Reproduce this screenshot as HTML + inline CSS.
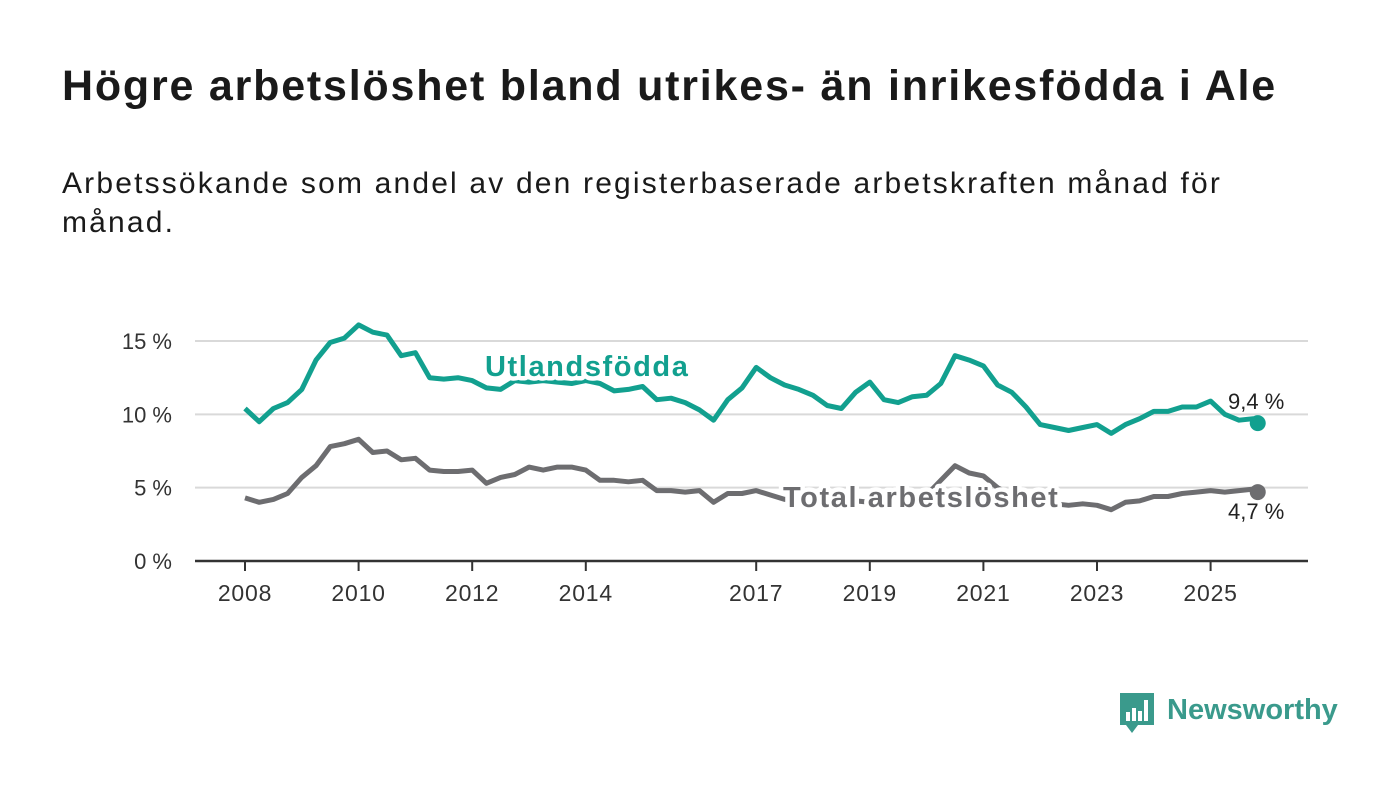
<!DOCTYPE html>
<html><head><meta charset="utf-8">
<style>
body{margin:0;width:1400px;height:794px;background:#fff;font-family:"Liberation Sans",sans-serif;overflow:hidden;position:relative;color:#1a1a1a}
h1{position:absolute;left:62px;top:62px;margin:0;font-size:43px;font-weight:bold;white-space:nowrap}
p{position:absolute;left:62px;top:164px;margin:0;font-size:30px;line-height:39px;white-space:nowrap}
svg{position:absolute;left:0;top:0}
</style></head><body>
<h1 id="title">Högre arbetslöshet bland utrikes- än inrikesfödda i Ale</h1>
<p><span id="sub1">Arbetssökande som andel av den registerbaserade arbetskraften månad för</span><br><span id="sub2">månad.</span></p>
<svg id="chart" width="1400" height="794"></svg>
<script>
const years=[2008,2010,2012,2014,2017,2019,2021,2023,2025];
const yTicks=[0,5,10,15];
const yTickLabels=["0 %","5 %","10 %","15 %"];
const startYear=2008;
const foreign=[10.4,9.5,10.4,10.8,11.7,13.7,14.9,15.2,16.1,15.6,15.4,14.0,14.2,12.5,12.4,12.5,12.3,11.8,11.7,12.3,12.2,12.3,12.2,12.1,12.3,12.1,11.6,11.7,11.9,11.0,11.1,10.8,10.3,9.6,11.0,11.8,13.2,12.5,12.0,11.7,11.3,10.6,10.4,11.5,12.2,11.0,10.8,11.2,11.3,12.1,14.0,13.7,13.3,12.0,11.5,10.5,9.3,9.1,8.9,9.1,9.3,8.7,9.3,9.7,10.2,10.2,10.5,10.5,10.9,10.0,9.6,9.7,9.4];
const total=[4.3,4.0,4.2,4.6,5.7,6.5,7.8,8.0,8.3,7.4,7.5,6.9,7.0,6.2,6.1,6.1,6.2,5.3,5.7,5.9,6.4,6.2,6.4,6.4,6.2,5.5,5.5,5.4,5.5,4.8,4.8,4.7,4.8,4.0,4.6,4.6,4.8,4.5,4.2,4.3,4.3,4.1,4.0,4.1,4.0,4.1,4.0,4.3,4.5,5.5,6.5,6.0,5.8,5.0,4.5,4.2,4.0,3.9,3.8,3.9,3.8,3.5,4.0,4.1,4.4,4.4,4.6,4.7,4.8,4.7,4.8,4.9,4.7];
const lastLabels=["9,4 %","4,7 %"];
const seriesNames=["Utlandsfödda","Total arbetslöshet"];

function fit(id,target){const e=document.getElementById(id);const w=e.getBoundingClientRect().width;const n=e.textContent.length;e.style.letterSpacing=((target-w)/n)+'px';}
fit('title',1215);fit('sub1',1160);
document.getElementById('sub2').style.letterSpacing=document.getElementById('sub1').style.letterSpacing;

const NS="http://www.w3.org/2000/svg";
const svg=document.getElementById('chart');
const X=t=>245+(t-startYear)*56.8;
const Y=v=>561-v*14.667;
const tOf=i=>startYear+(i===72?17.83:i*0.25);
function el(tag,attrs,parent){const e=document.createElementNS(NS,tag);for(const k in attrs)e.setAttribute(k,attrs[k]);(parent||svg).appendChild(e);return e;}

yTicks.forEach((v,i)=>{
  if(v>0){const g=el('line',{x1:195,x2:1308,y1:Y(v),y2:Y(v),stroke:'#d9d9d9','stroke-width':2});
  
  }
  const t=el('text',{x:172,y:Y(v)+8,'text-anchor':'end','font-size':22,fill:'#333'});
  t.textContent=yTickLabels[i];
  
  
});
const ax=el('line',{x1:195,x2:1308,y1:561,y2:561,stroke:'#333','stroke-width':2.5});


years.forEach(yr=>{
  el('line',{x1:X(yr),x2:X(yr),y1:561,y2:571,stroke:'#333','stroke-width':2});
  const t=el('text',{x:X(yr),y:601,'text-anchor':'middle','font-size':23,fill:'#333','letter-spacing':0.8});
  t.textContent=yr;
  
  
});
function line(data,color,name){
  const d=data.map((v,i)=>(i?'L':'M')+X(tOf(i)).toFixed(1)+','+Y(v).toFixed(1)).join('');
  const p=el('path',{d:d,fill:'none',stroke:color,'stroke-width':5,'stroke-linejoin':'round'});
  
  
  const n=data.length-1;
  const c=el('circle',{cx:X(tOf(n)),cy:Y(data[n]),r:8,fill:color});
  
  
}
line(total,'#6d6d70','total');
line(foreign,'#12a08f','foreign');
function label(x,y,txt,color,name){
  const t=el('text',{x:x,y:y,'font-size':29,'font-weight':'bold',fill:color,stroke:'#fff','stroke-width':9,'paint-order':'stroke','stroke-linejoin':'round','letter-spacing':1.6});
  t.textContent=txt;
  
  
}
label(485,376,seriesNames[0],'#12a08f','foreign-series-label');
label(783,507,seriesNames[1],'#6d6d70','total-series-label');
const v1=el('text',{x:1228,y:409,'font-size':22,fill:'#222'});v1.textContent=lastLabels[0];


const v2=el('text',{x:1228,y:519,'font-size':22,fill:'#222'});v2.textContent=lastLabels[1];



const g=el('g',{});


el('path',{d:'M1120,693 h34 v32 h-16 l-6,8 l-6,-8 h-6 z',fill:'#3a9a8c'},g);
[[1126,712,4,9],[1132,708,4,13],[1138,711,4,10],[1144,700,4,21]].forEach(r=>el('rect',{x:r[0],y:r[1],width:r[2],height:r[3],fill:'#fff'},g));
const lt=el('text',{x:1167,y:719,'font-size':29,'font-weight':'bold',fill:'#3a9a8c'},g);lt.textContent='Newsworthy';
</script>
</body></html>
